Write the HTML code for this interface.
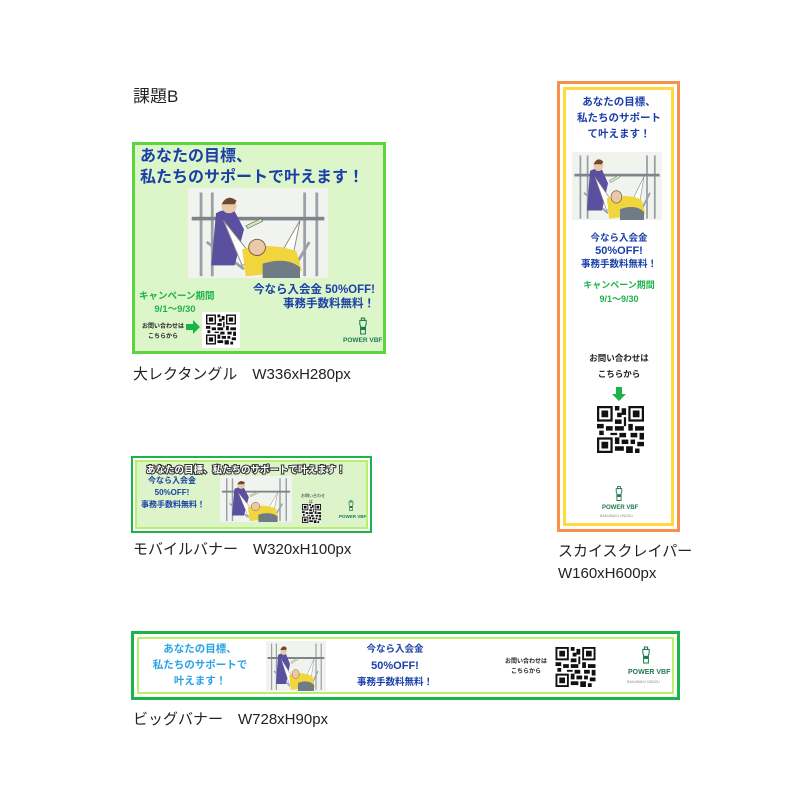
<!DOCTYPE html>
<html><head><meta charset="utf-8">
<style>
*{margin:0;padding:0;box-sizing:border-box}
body{width:810px;height:810px;background:#fff;position:relative;overflow:hidden;font-family:"Liberation Sans","Noto Sans CJK JP",sans-serif;color:#222}
.a{position:absolute;white-space:nowrap}
.cap{font-size:15px;line-height:18px}
.b{font-weight:bold}
.blue{color:#1a3fa8}
.grn{color:#1db34a}
svg{position:absolute;overflow:visible}
</style></head><body>
<svg width="0" height="0" style="position:absolute">
<defs>
<symbol id="ill" viewBox="0 0 150 100" preserveAspectRatio="none">
<rect x="0" y="0" width="150" height="100" fill="#f1f3ee"/>
<g stroke="#9aa0a6" stroke-width="3" fill="none">
<line x1="14" y1="5" x2="14" y2="98"/><line x1="26" y1="5" x2="26" y2="98"/>
<line x1="125" y1="5" x2="125" y2="98"/><line x1="138" y1="5" x2="138" y2="98"/>
<line x1="20" y1="60" x2="60" y2="90"/><line x1="130" y1="60" x2="110" y2="95"/>
</g>
<rect x="4" y="32" width="142" height="4" fill="#7d848a"/>
<path d="M30 28 q10 -6 20 -2 l10 20 l-10 40 l-25 0 z" fill="#5b4fa0"/>
<circle cx="44" cy="20" r="8" fill="#e9c9a8"/><path d="M36 18 q6 -12 16 -4 l-2 4 z" fill="#6b4a2e"/>
<path d="M38 36 L72 80 L58 86 Z" fill="#fff" stroke="#888" stroke-width="1"/>
<path d="M120 36 L100 72 L112 78 Z" fill="#fff" stroke="#888" stroke-width="1"/>
<path d="M58 68 q30 -8 58 2 l6 22 l-60 6 z" fill="#f0d63c"/>
<circle cx="74" cy="66" r="9" fill="#e9c9a8" stroke="#7a5a3a" stroke-width="1"/>
<path d="M80 84 q25 -8 40 4 l0 12 l-40 0 z" fill="#6f7c86"/>
<path d="M62 42 l16 -8 l2 3 l-16 8 z" fill="#cfe8b8" stroke="#555" stroke-width="0.6"/>
</symbol>
<symbol id="qr" viewBox="0 0 21 21">
<rect width="21" height="21" fill="#fff"/>
<g fill="#111">
<path d="M0 0h7v7h-7zM1 1v5h5v-5zM2 2h3v3h-3z" fill-rule="evenodd"/>
<path d="M14 0h7v7h-7zM15 1v5h5v-5zM16 2h3v3h-3z" fill-rule="evenodd"/>
<path d="M0 14h7v7h-7zM1 15v5h5v-5zM2 16h3v3h-3z" fill-rule="evenodd"/>
<rect x="8" y="0" width="2" height="2"/><rect x="11" y="1" width="2" height="3"/><rect x="9" y="3" width="2" height="2"/>
<rect x="8" y="6" width="3" height="2"/><rect x="12" y="5" width="1" height="4"/>
<rect x="0" y="8" width="3" height="2"/><rect x="4" y="9" width="3" height="2"/><rect x="8" y="9" width="4" height="2"/>
<rect x="14" y="8" width="2" height="3"/><rect x="17" y="9" width="4" height="2"/>
<rect x="1" y="11" width="2" height="2"/><rect x="6" y="12" width="3" height="1"/><rect x="10" y="12" width="3" height="2"/>
<rect x="15" y="12" width="3" height="2"/><rect x="19" y="12" width="2" height="3"/>
<rect x="8" y="14" width="2" height="3"/><rect x="11" y="15" width="3" height="2"/><rect x="15" y="15" width="2" height="2"/>
<rect x="18" y="16" width="3" height="2"/><rect x="8" y="18" width="4" height="2"/><rect x="13" y="18" width="3" height="3"/>
<rect x="17" y="19" width="2" height="2"/>
</g>
</symbol>
<symbol id="logo" viewBox="0 0 20 22">
<g fill="none" stroke="#1f7a52" stroke-width="1.3">
<rect x="8" y="1" width="4" height="3"/><path d="M6 4h8v5l-1 2v10h-6v-10l-1-2z"/>
</g>
<rect x="7.5" y="12" width="5" height="4" fill="#1f7a52"/>
</symbol>
</defs>
</svg>

<div class="a" style="left:133px;top:82px;font-size:17px">課題B</div>

<!-- Large rectangle -->
<div class="a" style="left:132px;top:142px;width:254px;height:212px;background:#ddf6c9;border:3px solid #5cd43b"></div>
<div class="a b blue" style="left:140px;top:146px;font-size:16px;line-height:21px">あなたの目標、<br>私たちのサポートで叶えます！</div>
<svg style="left:188px;top:188px" width="140" height="90"><use href="#ill" width="140" height="90"/></svg>
<div class="a b blue" style="left:245px;top:283px;font-size:11.5px;line-height:14px;text-align:right;width:130px">今なら入会金 50%OFF!<br>事務手数料無料！</div>
<div class="a b grn" style="left:139px;top:290px;font-size:9.5px;line-height:13px;text-align:center;width:72px">キャンペーン期間<br>9/1〜9/30</div>
<div class="a b" style="left:142px;top:322px;font-size:6px;line-height:10px;text-align:center">お問い合わせは<br>こちらから</div>
<svg style="left:186px;top:320px" width="14" height="14"><path d="M0 4h7v-4l7 7-7 7v-4h-7z" fill="#1db34a"/></svg>
<div class="a" style="left:202px;top:312px;width:38px;height:36px;background:#fff"></div>
<svg style="left:206px;top:314px" width="30" height="31"><use href="#qr" width="30" height="31"/></svg>
<svg style="left:355px;top:315px" width="16" height="22"><use href="#logo" width="16" height="22"/></svg>
<div class="a b" style="left:343px;top:337px;font-size:6.5px;color:#1f7a52">POWER VBF</div>

<div class="a cap" style="left:133px;top:366px">大レクタングル　W336xH280px</div>

<!-- Mobile banner -->
<div class="a" style="left:131px;top:456px;width:241px;height:77px;border:2.5px solid #1bb34a;background:#fff"></div>
<div class="a" style="left:135px;top:460px;width:233px;height:69px;border:2px solid #b7f06a;background:#ddf3c9"></div>
<div class="a b" style="left:146px;top:462px;font-size:9.5px;color:#fff;-webkit-text-stroke:2px #333;paint-order:stroke fill">あなたの目標、私たちのサポートで叶えます！</div>
<div class="a b blue" style="left:141px;top:475px;font-size:8px;line-height:12px;text-align:center;width:62px">今なら入会金<br>50%OFF!<br>事務手数料無料！</div>
<svg style="left:220px;top:476px" width="72" height="46"><use href="#ill" width="72" height="46"/></svg>
<div class="a" style="left:301px;top:493px;font-size:4px;line-height:6px;text-align:center;width:20px">お問い合わせ<br>は</div>
<svg style="left:302px;top:504px" width="19" height="19"><use href="#qr" width="19" height="19"/></svg>
<svg style="left:346px;top:499px" width="10" height="13"><use href="#logo" width="10" height="13"/></svg>
<div class="a b" style="left:339px;top:514px;font-size:4.5px;color:#1f7a52">POWER VBF</div>

<div class="a cap" style="left:133px;top:541px">モバイルバナー　W320xH100px</div>

<!-- Skyscraper -->
<div class="a" style="left:557px;top:81px;width:123px;height:451px;border:3px solid #f7904a;background:#fff"></div>
<div class="a" style="left:563px;top:87px;width:111px;height:439px;border:3px solid #ffd93d;background:#fff"></div>
<div class="a b blue" style="left:565px;top:94px;width:108px;text-align:center;font-size:10.5px;line-height:16px">あなたの目標、<br>私たちのサポート<br>て叶えます！</div>
<svg style="left:572px;top:152px" width="90" height="68"><use href="#ill" width="90" height="68"/></svg>
<div class="a b blue" style="left:565px;top:232px;width:108px;text-align:center;font-size:9.5px;line-height:13px">今なら入会金<br><span style="font-size:11px">50%OFF!</span><br>事務手数料無料！</div>
<div class="a b grn" style="left:565px;top:278px;width:108px;text-align:center;font-size:9px;line-height:14px">キャンペーン期間<br>9/1〜9/30</div>
<div class="a b" style="left:565px;top:350px;width:108px;text-align:center;font-size:8.5px;line-height:16px">お問い合わせは<br>こちらから</div>
<svg style="left:612px;top:387px" width="14" height="14"><path d="M4 0h6v7h4l-7 7-7-7h4z" fill="#1db34a"/></svg>
<svg style="left:597px;top:406px" width="47" height="47"><use href="#qr" width="47" height="47"/></svg>
<svg style="left:612px;top:484px" width="14" height="19"><use href="#logo" width="14" height="19"/></svg>
<div class="a b" style="left:602px;top:505px;font-size:6px;color:#1f7a52">POWER VBF</div>
<div class="a" style="left:600px;top:514px;font-size:3.5px;color:#888">BAKUBAKU UNDOU</div>

<div class="a cap" style="left:558px;top:541px;line-height:22px">スカイスクレイパー<br>W160xH600px</div>

<!-- Big banner -->
<div class="a" style="left:131px;top:631px;width:549px;height:69px;border:3px solid #1bb34a;background:#fff"></div>
<div class="a" style="left:137px;top:637px;width:537px;height:57px;border:2.5px solid #b7f06a;background:#fff"></div>
<div class="a b" style="left:137px;top:641px;width:126px;text-align:center;font-size:10.5px;line-height:16px;color:#29a3e8">あなたの目標、<br>私たちのサポートで<br>叶えます！</div>
<svg style="left:266px;top:641px" width="60" height="50"><use href="#ill" width="60" height="50"/></svg>
<div class="a b blue" style="left:340px;top:642px;width:110px;text-align:center;font-size:9.5px;line-height:16px">今なら入会金<br><span style="font-size:11px">50%OFF!</span><br>事務手数料無料！</div>
<div class="a b" style="left:505px;top:657px;font-size:6px;line-height:10px;text-align:center">お問い合わせは<br>こちらから</div>
<svg style="left:555px;top:647px" width="41" height="40"><use href="#qr" width="41" height="40"/></svg>
<svg style="left:638px;top:643px" width="16" height="24"><use href="#logo" width="16" height="24"/></svg>
<div class="a b" style="left:628px;top:669px;font-size:7px;color:#1f7a52">POWER VBF</div>
<div class="a" style="left:627px;top:680px;font-size:3.5px;color:#888">BAKUBAKU UNDOU</div>

<div class="a cap" style="left:133px;top:711px">ビッグバナー　W728xH90px</div>
</body></html>
